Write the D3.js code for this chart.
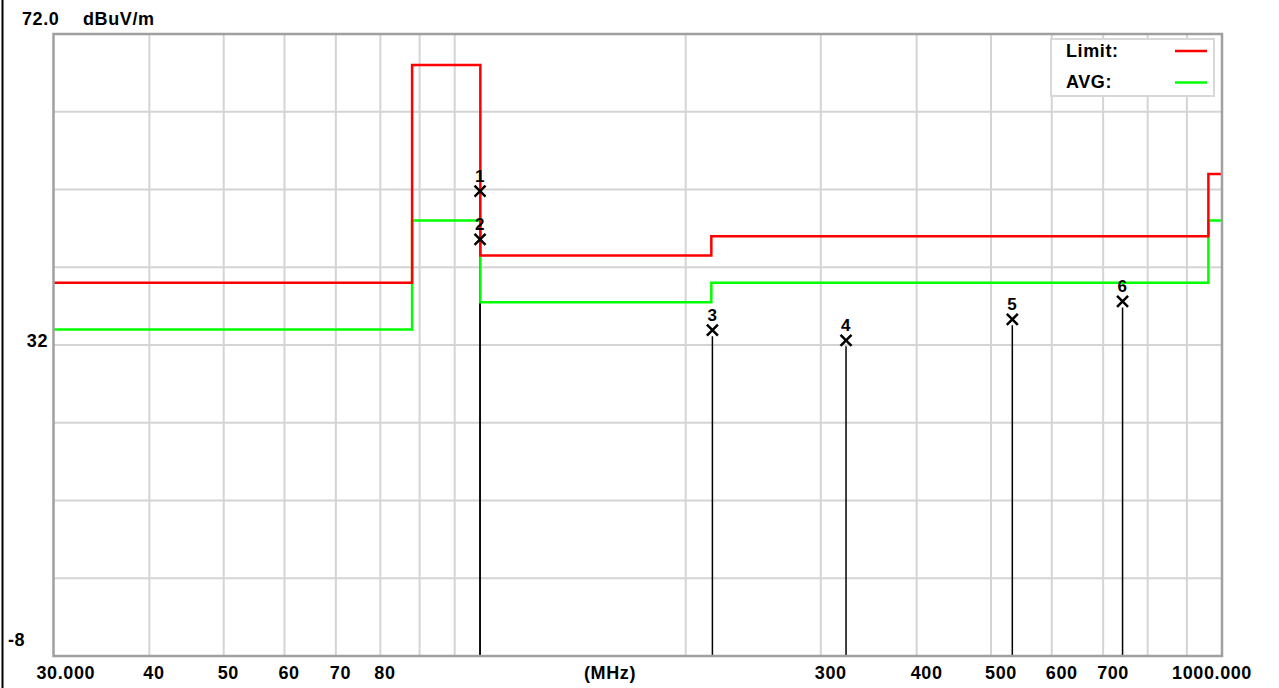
<!DOCTYPE html>
<html>
<head>
<meta charset="utf-8">
<script src="https://cdn.jsdelivr.net/npm/d3@7"></script>
<style>
  body { margin: 0; background: #ffffff; }
  text { font-family: "Liberation Sans", Arial, sans-serif; font-weight: bold; fill: #000; letter-spacing: 0.6px; }
</style>
</head>
<body>
<div id="chart"></div>
<script>
// limit / average lines are step functions: level holds from edge[i] to edge[i+1]
const limitEdges = [30, 88, 108, 216, 960, 1000];
const limitLevels = [40, 68, 43.5, 46, 54];
const avgEdges = [30, 88, 108, 216, 960, 1000];
const avgLevels = [34, 48, 37.5, 40, 48];

// measured peaks
const markerIds = ["1", "2", "3", "4", "5", "6"];
const markerFreqs = [107.9, 107.9, 216.7, 323.6, 533, 742];
const markerLevels = [51.8, 45.6, 33.9, 32.6, 35.3, 37.6];

// axis ticks
const gridFreqs = [40, 50, 60, 70, 80, 90, 100, 200, 300, 400, 500, 600, 700, 800, 900];
const freqLabels = [40, 50, 60, 70, 80, 300, 400, 500, 600, 700];
const gridLevels = [2, 12, 22, 32, 42, 52, 62];

const width = 1279, height = 688;
const plot = { left: 53.5, right: 1222, top: 34, bottom: 656 };

const svg = d3.select("#chart")
    .append("svg")
    .attr("width", width)
    .attr("height", height);

const x = d3.scaleLog()
    .domain([30, 1000])
    .range([plot.left, plot.right]);

const y = d3.scaleLinear()
    .domain([-8, 72])
    .range([plot.bottom, plot.top]);

// left window edge
svg.append("line")
    .attr("x1", 2.5).attr("x2", 2.5)
    .attr("y1", 0).attr("y2", height)
    .attr("stroke", "#000").attr("stroke-width", 2);

// grid
svg.append("g").selectAll("line")
    .data(gridFreqs)
    .enter().append("line")
    .attr("x1", d => x(d)).attr("x2", d => x(d))
    .attr("y1", plot.top).attr("y2", plot.bottom)
    .attr("stroke", "#d4d4d4").attr("stroke-width", 2);

svg.append("g").selectAll("line")
    .data(gridLevels)
    .enter().append("line")
    .attr("x1", plot.left).attr("x2", plot.right)
    .attr("y1", d => y(d)).attr("y2", d => y(d))
    .attr("stroke", "#d4d4d4").attr("stroke-width", 2);

// marker stems
svg.append("g").selectAll("line")
    .data(markerFreqs)
    .enter().append("line")
    .attr("x1", d => x(d)).attr("x2", d => x(d))
    .attr("y1", (d, i) => y(markerLevels[i]) + 6)
    .attr("y2", plot.bottom)
    .attr("stroke", "#000").attr("stroke-width", 1.5);

// step lines
const stepPoints = (edges, levels) =>
    edges.map((f, i) => [f, levels[Math.min(i, levels.length - 1)]]);

const line = d3.line()
    .x(d => x(d[0]))
    .y(d => y(d[1]))
    .curve(d3.curveStepAfter);

svg.append("path")
    .datum(stepPoints(avgEdges, avgLevels))
    .attr("d", line)
    .attr("fill", "none").attr("stroke", "#00ff00").attr("stroke-width", 2.5);

svg.append("path")
    .datum(stepPoints(limitEdges, limitLevels))
    .attr("d", line)
    .attr("fill", "none").attr("stroke", "#ff0000").attr("stroke-width", 2.5);

// markers: X glyph with number above
const markers = svg.append("g").selectAll("g")
    .data(markerFreqs)
    .enter().append("g")
    .attr("transform", (d, i) => `translate(${x(d)}, ${y(markerLevels[i])})`);

markers.append("path")
    .attr("d", "M-5.5,-5.5L5.5,5.5M5.5,-5.5L-5.5,5.5")
    .attr("stroke", "#000").attr("stroke-width", 2.5).attr("fill", "none");

markers.append("text")
    .attr("y", -9)
    .attr("text-anchor", "middle")
    .attr("font-size", "17px")
    .text((d, i) => markerIds[i]);

// frame
svg.append("rect")
    .attr("x", plot.left).attr("y", plot.top)
    .attr("width", plot.right - plot.left)
    .attr("height", plot.bottom - plot.top)
    .attr("fill", "none").attr("stroke", "#a0a0a0").attr("stroke-width", 2.5);

// x labels
svg.append("g").selectAll("text")
    .data(freqLabels)
    .enter().append("text")
    .attr("x", d => x(d) - 6)
    .attr("y", 679)
    .attr("font-size", "18px")
    .text(d => d);

svg.append("text")
    .attr("x", x(30) - 17).attr("y", 679)
    .attr("font-size", "18px")
    .text("30.000");

svg.append("text")
    .attr("x", x(1000) + 30).attr("y", 679)
    .attr("text-anchor", "end")
    .attr("font-size", "18px")
    .text("1000.000");

svg.append("text")
    .attr("x", 610).attr("y", 679)
    .attr("text-anchor", "middle")
    .attr("font-size", "18px")
    .text("(MHz)");

// y labels
svg.append("text")
    .attr("x", 22).attr("y", 25)
    .attr("font-size", "18px")
    .text("72.0");

svg.append("text")
    .attr("x", 83).attr("y", 25)
    .attr("font-size", "18px")
    .text("dBuV/m");

svg.append("text")
    .attr("x", 48).attr("y", y(32) + 2)
    .attr("text-anchor", "end")
    .attr("font-size", "18px")
    .text("32");

svg.append("text")
    .attr("x", 8).attr("y", y(-8) - 10)
    .attr("font-size", "18px")
    .text("-8");

// legend
const legend = svg.append("g");
legend.append("rect")
    .attr("x", 1051).attr("y", 39)
    .attr("width", 163).attr("height", 57)
    .attr("fill", "#fff").attr("stroke", "#d8d8d8").attr("stroke-width", 2);

const legendItems = [["Limit:", "#ff0000"], ["AVG:", "#00ff00"]];
legendItems.forEach(([label, color], i) => {
    legend.append("text")
        .attr("x", 1066).attr("y", 57 + i * 31)
        .attr("font-size", "18px")
        .text(label);
    legend.append("line")
        .attr("x1", 1175).attr("x2", 1207)
        .attr("y1", 51 + i * 31.5).attr("y2", 51 + i * 31.5)
        .attr("stroke", color).attr("stroke-width", 2.5);
});
</script>
</body>
</html>
